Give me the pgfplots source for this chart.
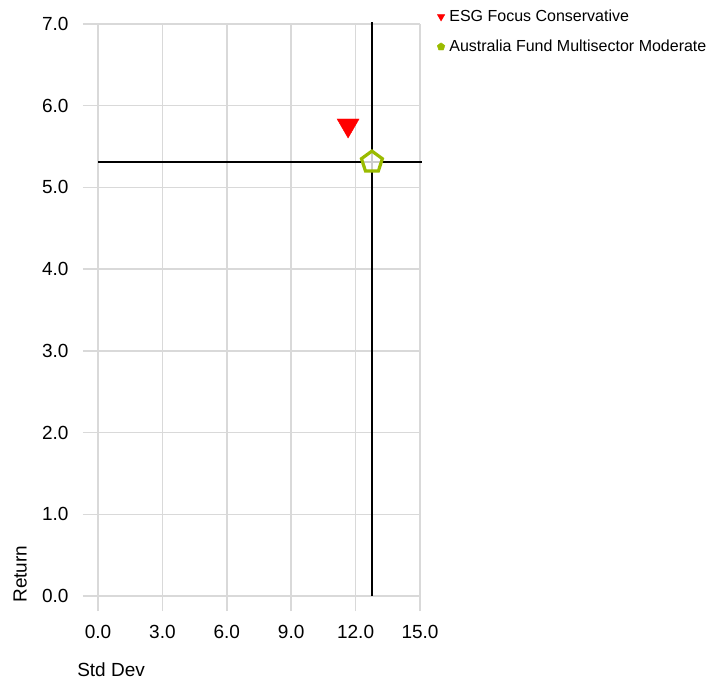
\documentclass[border=0pt]{standalone}
\usepackage{fontspec}
\setmainfont{Liberation Sans}
\usepackage{pgfplots}
\pgfplotsset{compat=1.18}
\definecolor{gridc}{RGB}{217,217,217}
\definecolor{pentc}{RGB}{154,187,0}
\pgfplotsset{dotlegend/.style={legend image code/.code={\draw[##1] plot coordinates {(0,0)};}}}
\begin{document}
\begin{tikzpicture}
\useasboundingbox (0,0) rectangle (727bp,679bp);
\begin{axis}[
  at={(98bp,83bp)}, anchor=south west,
  scale only axis, width=322bp, height=572bp,
  xmin=0, xmax=15, ymin=0, ymax=7,
  xtick={0,3,6,9,12,15}, ytick={0,1,2,3,4,5,6,7},
  axis line style={draw=none},
  grid=major,
  major grid style={color=gridc, line width=1.5bp},
  tick align=outside, tick pos=left,
  major tick length=15bp,
  tick style={color=gridc, line width=1.5bp},
  /pgf/number format/assume math mode=true,
  /pgf/number format/.cd, fixed, fixed zerofill, precision=1, /pgfplots/.cd,
  ticklabel style={font=\fontsize{19bp}{22bp}\selectfont},
  xticklabel style={yshift=-11bp},
  yticklabel style={xshift=-11bp},
  xlabel={Std Dev}, ylabel={Return},
  label style={font=\fontsize{19bp}{22bp}\selectfont, inner sep=0pt},
  xlabel style={at={(axis description cs:-0.065,-0.128)}, anchor=west},
  ylabel style={at={(axis description cs:-0.242,-0.012)}, anchor=west},
  clip=false,
  legend style={draw=none, fill=none, inner sep=0pt, at={(axis description cs:1.053,1.028)}, anchor=north west, font=\fontsize{16bp}{19bp}\selectfont, row sep=13bp, nodes={inner xsep=4.5bp}},
  legend cell align=left,
]
\addplot[black, line width=1.5bp, forget plot] coordinates {(12.76,0) (12.76,7.02)};
\addplot[black, line width=1.5bp, forget plot] coordinates {(0,5.31) (15.1,5.31)};
\addplot[only marks, pentc, mark=pentagon*, mark size=11bp, mark options={draw=pentc, line width=3.2bp, fill=white, fill opacity=0.8}, forget plot] coordinates {(12.76,5.31)};
\addplot[only marks, red, mark=triangle*, mark size=12.7bp, mark options={rotate=180, draw=none, fill=red}, forget plot] coordinates {(11.65,5.76)};
\addlegendimage{only marks, red, mark=triangle*, mark size=4.3bp, mark options={rotate=180, draw=none, fill=red}, dotlegend}
\addlegendentry{ESG Focus Conservative}
\addlegendimage{only marks, pentc, mark=pentagon*, mark size=4bp, mark options={draw=pentc, fill=pentc}, dotlegend}
\addlegendentry{Australia Fund Multisector Moderate}
\end{axis}
\end{tikzpicture}
\end{document}
